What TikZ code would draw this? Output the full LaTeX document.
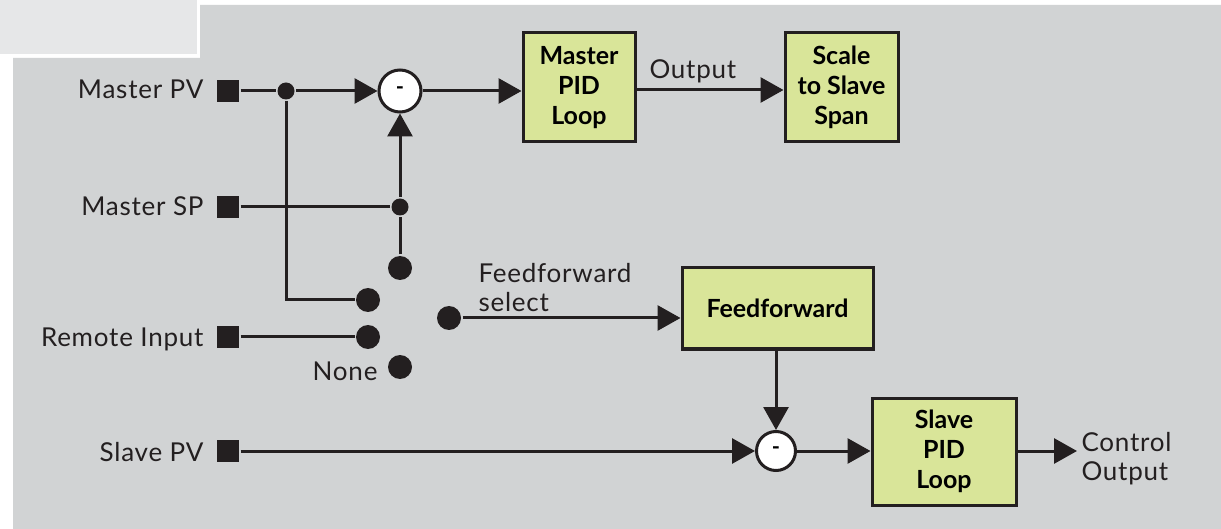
\documentclass[tikz,border=0pt]{standalone}
\usepackage{fontspec}
\setmainfont{Lato}
\usetikzlibrary{arrows.meta}
\definecolor{panel}{HTML}{D1D3D4}
\definecolor{lightpanel}{HTML}{E6E7E8}
\definecolor{boxfill}{HTML}{D9E599}
\definecolor{ink}{HTML}{231F20}
\begin{document}
\begin{tikzpicture}[x=1pt,y=-1pt,
  line width=3pt, draw=ink,
  arr/.style={draw=ink, line width=3pt, -{Triangle[length=23pt,width=25pt]}},
  wire/.style={draw=ink, line width=3pt},
  term/.style={rectangle, fill=ink, draw=none, minimum size=22pt, inner sep=0pt},
  jdot/.style={circle, fill=ink, draw=none, minimum size=17pt, inner sep=0pt},
  swdot/.style={circle, fill=ink, draw=none, minimum size=24pt, inner sep=0pt},
  sumc/.style={circle, fill=white, draw=ink, line width=3pt, inner sep=0pt, font=\fontsize{22}{24}\selectfont\bfseries},
  blk/.style={rectangle, fill=boxfill, draw=ink, line width=3pt, inner sep=0pt, align=center,
     font=\fontsize{25}{30}\selectfont\bfseries, text=black},
  lbl/.style={inner sep=0pt, text=ink, font=\fontsize{26}{29}\selectfont\addfontfeatures{LetterSpace=3}}
]
\useasboundingbox (0,0) rectangle (1221,529);
% background panels
\fill[white] (0,0) rectangle (1221,529);
\fill[lightpanel] (0,0) rectangle (197,54);
\fill[panel] (200,5) -- (1221,5) -- (1221,529) -- (13,529) -- (13,58) -- (200,58) -- cycle;

% terminals
\node[term] (pv) at (228,91) {};
\node[term] (sp) at (228,207) {};
\node[term] (ri) at (228,337) {};
\node[term] (sv) at (228,451) {};
\node[lbl, anchor=base east] (lpv) at (205,99) {Master PV};
\node[lbl, anchor=base east] (lsp) at (205,216) {Master SP};
\node[lbl, anchor=base east] (lri) at (205,346) {Remote Input};
\node[lbl, anchor=base east] (lsv) at (205,461) {Slave PV};

% junctions and switch contacts
\node[jdot] (jpv) at (286,91) {};
\node[jdot] (jsp) at (400,207) {};
\node[swdot] (sw1) at (400,268) {};
\node[swdot] (sw2) at (368,300) {};
\node[swdot] (sw3) at (368,337) {};
\node[swdot] (sw4) at (400,367) {};
\node[swdot] (swo) at (449,318) {};
\node[lbl, anchor=base east] (lnone) at (379,380) {None};

% summing junctions
\node[sumc, minimum size=42pt] (summ) at (400,91) {-};
\node[sumc, minimum size=39pt] (sums) at (776,451) {-};

% blocks
\node[blk, minimum width=112pt, minimum height=109pt] (mpid) at (579,87.5) {Master\\PID\\Loop};
\node[blk, minimum width=113pt, minimum height=109pt] (scale) at (841.5,87.5) {Scale\\to Slave\\Span};
\node[blk, minimum width=191pt, minimum height=81pt] (ff) at (777.5,308.5) {Feedforward};
\node[blk, minimum width=144pt, minimum height=107pt] (spid) at (944,451.5) {Slave\\PID\\Loop};
\coordinate (cout) at (1077,451);

% text labels
\node[lbl, anchor=base west] (lout) at (648,79) {Output};
\node[lbl, anchor=north west, align=left] (lffs) at (477,262) {Feedforward\\select};
\node[lbl, anchor=north west, align=left] (lcout) at (1080,431) {Control\\Output};

% connectors
\draw[wire] (pv) -- (jpv);
\draw[arr] (jpv) -- (summ);
\draw[wire] (jpv) -- (jpv |- sw2) -- (sw2);
\draw[wire] (sp) -- (jsp);
\draw[wire] (sw1) -- (jsp);
\draw[arr] (jsp) -- (summ);
\draw[wire] (ri) -- (sw3);
\draw[arr] (swo) -- (swo -| ff.west);
\draw[arr] (summ) -- (summ -| mpid.west);
\draw[arr] (mpid.east |- 0,90) -- (scale.west |- 0,90);
\draw[arr] (ff.south -| sums) -- (sums);
\draw[arr] (sv) -- (sums);
\draw[arr] (sums) -- (sums -| spid.west);
\draw[arr] (spid.east |- cout) -- (cout);
\end{tikzpicture}
\end{document}
